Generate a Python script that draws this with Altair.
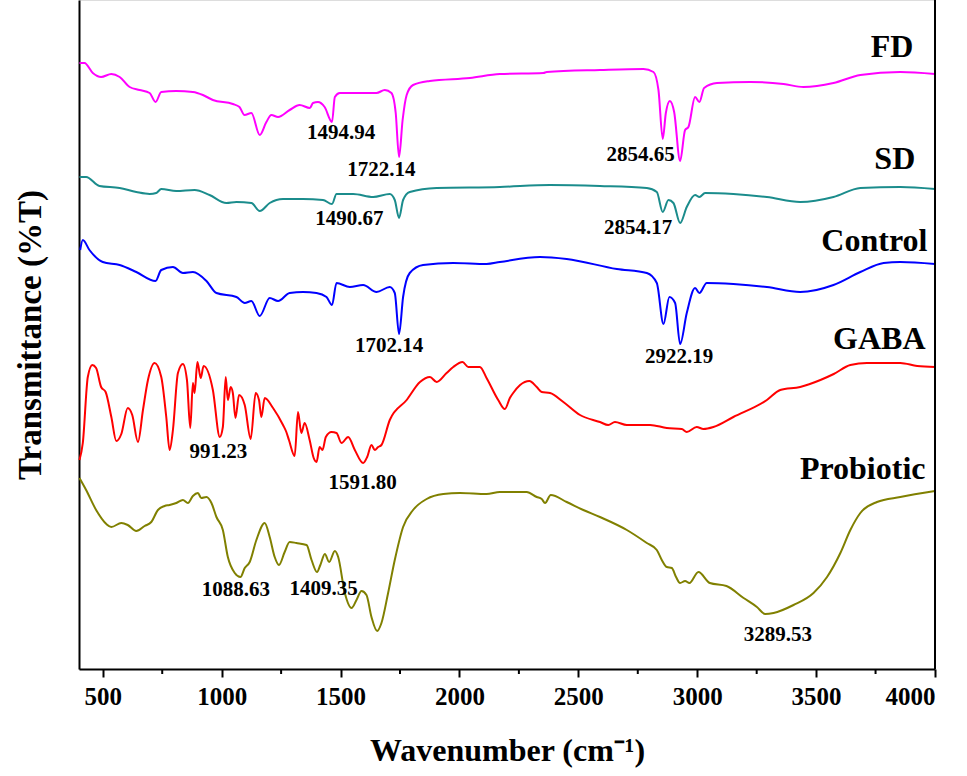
import altair as alt
import pandas as pd

# Wavenumber (cm-1) and transmittance (offset, arbitrary %T units) for each spectrum
fd_wn = [402, 423, 458, 493, 536, 571, 613, 655, 697, 722, 746, 809, 879, 921, 963, 1047, 1075, 1096, 1125, 1160,
         1188, 1209, 1237, 1286, 1328, 1371, 1384, 1405, 1433, 1464, 1476, 1497, 1581, 1651, 1686, 1714, 1732, 1746,
         1761, 1778, 1805, 1875, 2044, 2170, 2353, 2367, 2591, 2774, 2816, 2837, 2855, 2868, 2885, 2903, 2928, 2949,
         2963, 2991, 3009, 3029, 3083, 3223, 3363, 3447, 3573, 3686, 3854, 4000]
fd_t = [60.6, 60.6, 59.6, 59.2, 59.5, 59.2, 58.2, 57.9, 57.6, 56.7, 57.7, 57.8, 57.7, 57.4, 56.9, 56.5, 56.2, 55.4,
        55.6, 53.4, 54.7, 55.4, 55.2, 55.9, 56.4, 56.1, 56.6, 56.7, 56.2, 54.7, 57.2, 57.6, 57.6, 57.6, 57.9, 57.6,
        55.6, 51.2, 54.9, 57.4, 58.4, 58.8, 59.1, 59.5, 59.6, 59.7, 59.9, 60.0, 59.7, 57.9, 53.0, 55.6, 56.8, 55.7,
        50.8, 53.9, 54.2, 57.2, 56.7, 58.1, 58.6, 58.7, 58.5, 58.2, 58.6, 59.4, 59.7, 59.5]

sd_wn = [402, 430, 486, 571, 641, 697, 725, 746, 809, 886, 949, 1020, 1062, 1125, 1160, 1202, 1258, 1342, 1426, 1464,
         1483, 1553, 1637, 1707, 1728, 1746, 1763, 1791, 1904, 2170, 2381, 2591, 2788, 2830, 2855, 2879, 2900, 2928,
         2956, 2991, 3009, 3033, 3152, 3293, 3433, 3573, 3686, 3854, 4000]
sd_t = [49.2, 49.2, 48.3, 48.1, 47.7, 47.5, 47.6, 48.0, 47.8, 47.9, 47.4, 46.6, 46.7, 46.6, 45.8, 46.6, 47.0, 47.0,
        46.9, 46.5, 47.5, 47.5, 47.2, 47.5, 46.9, 45.1, 46.9, 47.7, 48.1, 48.2, 48.4, 48.3, 48.1, 47.7, 45.7, 46.9,
        46.6, 44.6, 46.2, 47.4, 47.2, 47.6, 47.5, 47.2, 46.7, 47.2, 48.1, 48.2, 48.0]

control_wn = [405, 416, 444, 500, 571, 641, 722, 746, 795, 837, 879, 936, 978, 1062, 1097, 1125, 1160, 1202, 1237,
              1286, 1342, 1399, 1441, 1464, 1483, 1539, 1595, 1651, 1707, 1728, 1746, 1763, 1791, 1847, 1974, 2114,
              2170, 2339, 2451, 2662, 2788, 2830, 2858, 2883, 2907, 2928, 2956, 2991, 3009, 3040, 3152, 3293, 3433,
              3573, 3686, 3784, 3854, 4000]
control_t = [41.9, 42.9, 41.9, 40.7, 40.4, 39.7, 38.8, 39.9, 40.2, 39.6, 39.7, 38.8, 37.6, 37.2, 36.6, 36.8, 35.3,
             37.1, 36.8, 37.6, 37.7, 37.6, 37.2, 36.4, 38.6, 38.2, 38.4, 37.7, 38.2, 37.6, 33.5, 37.2, 39.6, 40.4,
             40.6, 40.5, 40.7, 41.2, 41.0, 40.0, 39.6, 38.6, 34.5, 37.2, 36.6, 32.5, 35.6, 38.1, 37.6, 38.6, 38.5,
             38.2, 37.7, 38.4, 39.7, 40.6, 40.7, 40.5]

gaba_wn = [402, 416, 437, 456, 472, 493, 512, 536, 557, 578, 605, 624, 648, 669, 690, 718, 746, 767, 781, 795, 816,
           837, 854, 868, 879, 886, 898, 912, 924, 963, 992, 1005, 1017, 1026, 1038, 1047, 1058, 1073, 1097, 1122,
           1143, 1157, 1167, 1181, 1216, 1258, 1272, 1283, 1307, 1321, 1335, 1349, 1370, 1387, 1399, 1412, 1424,
           1438, 1462, 1483, 1504, 1532, 1560, 1595, 1612, 1630, 1644, 1658, 1672, 1707, 1778, 1834, 1876, 1904,
           1946, 1974, 2013, 2037, 2058, 2086, 2114, 2163, 2191, 2212, 2226, 2255, 2294, 2325, 2346, 2381, 2437,
           2507, 2591, 2626, 2654, 2704, 2802, 2872, 2935, 2956, 2998, 3026, 3068, 3152, 3293, 3349, 3433, 3518,
           3574, 3644, 3714, 3854, 3925, 4000]
gaba_t = [20.9, 22.6, 29.2, 30.4, 30.1, 28.2, 27.7, 25.2, 22.8, 23.5, 26.1, 25.4, 22.7, 25.9, 28.9, 30.6, 29.2, 25.2,
          21.9, 23.9, 29.6, 30.5, 28.9, 24.1, 28.6, 27.6, 30.7, 29.1, 30.3, 27.9, 23.2, 24.2, 29.2, 26.9, 28.2, 27.6,
          25.1, 27.4, 26.4, 23.0, 27.6, 26.9, 25.2, 27.1, 26.1, 24.4, 23.7, 22.9, 21.3, 25.7, 23.6, 24.6, 22.9, 21.1,
          20.7, 22.2, 21.9, 23.2, 23.7, 23.6, 22.6, 23.2, 21.9, 20.6, 21.2, 22.4, 21.9, 22.2, 22.4, 24.9, 26.9, 28.7,
          29.2, 28.7, 29.6, 30.2, 30.7, 30.2, 30.2, 30.2, 29.1, 26.9, 26.0, 27.1, 27.6, 28.4, 28.8, 28.2, 27.7, 27.6,
          26.7, 25.4, 24.7, 24.4, 24.7, 24.4, 24.4, 24.1, 24.0, 23.7, 24.2, 24.0, 24.2, 25.2, 26.9, 27.9, 28.2, 28.9,
          29.5, 30.4, 30.6, 30.6, 30.3, 30.2]

probiotic_wn = [402, 430, 472, 515, 536, 578, 605, 641, 676, 704, 732, 760, 781, 809, 837, 858, 879, 900, 914, 936,
                957, 978, 1005, 1026, 1055, 1079, 1097, 1118, 1146, 1181, 1202, 1223, 1241, 1265, 1286, 1314, 1357,
                1378, 1401, 1415, 1434, 1452, 1476, 1490, 1518, 1546, 1567, 1588, 1609, 1630, 1654, 1672, 1700, 1728,
                1763, 1805, 1862, 1932, 2002, 2114, 2170, 2283, 2325, 2346, 2360, 2384, 2451, 2521, 2591, 2704, 2788,
                2830, 2851, 2872, 2893, 2911, 2928, 2949, 2967, 3005, 3053, 3123, 3195, 3251, 3286, 3321, 3405, 3489,
                3546, 3602, 3644, 3686, 3756, 3854, 4000]
probiotic_t = [19.1, 17.9, 15.9, 14.5, 14.2, 14.6, 14.4, 13.8, 14.3, 14.7, 15.9, 16.3, 16.4, 16.6, 16.9, 16.6, 17.3,
               17.6, 17.1, 17.2, 16.6, 15.2, 13.9, 11.2, 9.6, 9.2, 10.1, 10.7, 12.9, 14.6, 13.2, 11.2, 10.4, 11.7,
               12.7, 12.6, 12.4, 10.9, 9.7, 10.4, 11.5, 10.7, 11.8, 11.2, 7.6, 6.1, 6.9, 7.8, 7.4, 5.2, 3.8, 4.6, 7.6,
               10.9, 14.2, 15.9, 17.0, 17.5, 17.6, 17.5, 17.7, 17.7, 17.2, 17.0, 16.6, 17.4, 16.7, 15.9, 15.2, 13.9,
               12.6, 11.9, 10.9, 10.2, 10.1, 9.2, 8.6, 8.8, 8.6, 9.7, 8.6, 8.3, 7.1, 6.2, 5.5, 5.6, 6.4, 7.6, 9.2,
               11.6, 13.9, 15.6, 16.7, 17.2, 17.8]

series_names = ["FD", "SD", "Control", "GABA", "Probiotic"]
series_colors = ["#FF00FF", "#1B8C8C", "#0000FF", "#FF0000", "#808000"]

# Peak annotations
peak_labels = ["1494.94", "1722.14", "1490.67", "2854.65", "2854.17", "1702.14", "2922.19",
               "991.23", "1591.80", "1088.63", "1409.35", "3289.53"]
peak_wn = [1502, 1672, 1537, 2762, 2751, 1704, 2924, 986, 1593, 1060, 1429, 3339]
peak_t = [53.6, 49.9, 45.0, 51.4, 44.1, 32.3, 31.2, 21.7, 18.6, 7.9, 8.0, 3.4]

# Series name labels
name_wn = [3909, 3917, 3968, 3960, 3960]
name_t = [62.2, 51.0, 42.8, 33.0, 20.0]

x_ticks = [500, 1000, 1500, 2000, 2500, 3000, 3500, 4000]
x_minor = [750, 1250, 1750, 2250, 2750, 3250, 3750]

rows = []
for name, wn, t in [("FD", fd_wn, fd_t), ("SD", sd_wn, sd_t), ("Control", control_wn, control_t),
                    ("GABA", gaba_wn, gaba_t), ("Probiotic", probiotic_wn, probiotic_t)]:
    for w, v in zip(wn, t):
        rows.append({"series": name, "wn": w, "t": v})
df = pd.DataFrame(rows)
peaks = pd.DataFrame({"label": peak_labels, "wn": peak_wn, "t": peak_t})
names = pd.DataFrame({"label": series_names, "wn": name_wn, "t": name_t})

FONT = "Liberation Serif"
xscale = alt.Scale(domain=[400, 4000], nice=False, zero=False)
yscale = alt.Scale(domain=[0, 66.9], nice=False, zero=False)

main_x_axis = alt.Axis(values=x_ticks, format="d", tickSize=8, tickWidth=2, tickColor="black",
                       domainColor="black", domainWidth=2, labelFont=FONT, labelFontSize=25,
                       labelFontWeight="bold", labelColor="black", labelPadding=7, grid=False,
                       title="Wavenumber (cm\u207b\u00b9)", titleFont=FONT, titleFontSize=32,
                       titleFontWeight="bold", titleColor="black", titlePadding=26)
y_axis = alt.Axis(labels=False, ticks=False, grid=False, domainColor="black", domainWidth=2,
                  title="Transmittance (%T)", titleFont=FONT, titleFontSize=33, titleFontWeight="bold",
                  titleColor="black", titlePadding=32)

lines = alt.Chart(df).mark_line(strokeWidth=2, interpolate="monotone").encode(
    x=alt.X("wn:Q", scale=xscale, axis=main_x_axis),
    y=alt.Y("t:Q", scale=yscale, axis=y_axis),
    color=alt.Color("series:N", scale=alt.Scale(domain=series_names, range=series_colors), legend=None),
    detail="series:N",
)

minor = alt.Chart(pd.DataFrame({"wn": x_minor})).mark_rule(color="black", strokeWidth=2).encode(
    x=alt.X("wn:Q", scale=xscale, axis=None),
    y=alt.value(669),
    y2=alt.value(674),
)

right_rule = alt.Chart(pd.DataFrame({"wn": [4000]})).mark_rule(color="black", strokeWidth=2).encode(
    x=alt.X("wn:Q", scale=xscale, axis=None)
)

peak_text = alt.Chart(peaks).mark_text(font=FONT, fontSize=21, fontWeight="bold", color="black",
                                       align="center", baseline="middle").encode(
    x=alt.X("wn:Q", scale=xscale, axis=None),
    y=alt.Y("t:Q", scale=yscale, axis=y_axis),
    text="label:N",
)

name_text = alt.Chart(names).mark_text(font=FONT, fontSize=32, fontWeight="bold", color="black",
                                       align="right", baseline="middle").encode(
    x=alt.X("wn:Q", scale=xscale, axis=None),
    y=alt.Y("t:Q", scale=yscale, axis=y_axis),
    text="label:N",
)

chart = alt.layer(lines, minor, right_rule, peak_text, name_text).resolve_axis(x="independent").properties(
    width=856, height=669,
    autosize=alt.AutoSizeParams(type="none"),
    padding={"left": 79, "top": 0, "right": 32, "bottom": 107},
).configure_view(stroke=None).configure(background="white")

chart.save("out.html", embed_options={"renderer": "svg", "actions": False})
